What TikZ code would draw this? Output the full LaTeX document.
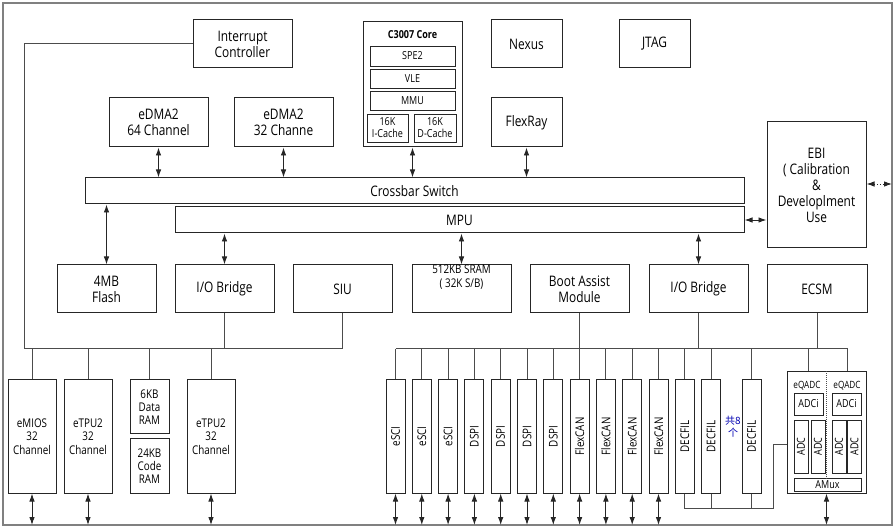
\documentclass[tikz,border=0pt]{standalone}
\usepackage{fontspec}
\setmainfont{Open Sans}[FakeStretch=0.82]
\newfontfamily\cjk{Noto Sans CJK SC}
\usetikzlibrary{arrows.meta}
\newcommand\bigf{\fontsize{14.5}{16}\selectfont}
\newcommand\midf{\fontsize{12}{13.3}\selectfont}
\newcommand\smf{\fontsize{11}{12}\selectfont}
\begin{document}
\begin{tikzpicture}[x=1pt,y=-1pt,line width=0.9pt,
  blk/.style={draw=black!85,line width=1pt,inner sep=1pt,align=center,font=\bigf},
  sz/.style 2 args={minimum width=#1pt,minimum height=#2pt},
  sub/.style={blk,font=\smf,line width=0.8pt},
  per/.style={blk,font=\midf,sz={19}{113}},
  dbl/.style={{Latex[length=8pt,width=5.5pt]}-{Latex[length=8pt,width=5.5pt]},black!85},
  wire/.style={black!70,line width=1pt}]
\useasboundingbox (0,0) rectangle (895,529);
\draw[black!50,line width=1.3pt] (3,3) rectangle (892,525);
\coordinate (bot) at (0,525);
\coordinate (lb) at (24,349);
\coordinate (rb) at (395.5,349);
\coordinate (rbe) at (847,349);
\coordinate (rbq) at (808,349);
\coordinate (db) at (773,508);
\coordinate (dq) at (0,445);
\coordinate (ext) at (892,184);
\node[blk,sz={99}{48}] (intc) at (242.5,44) {Interrupt\\Controller};
\node[blk,sz={99}{125}] (core) at (412.5,84.5) {};
\node[font=\smf\bfseries] (coret) at (412.5,35) {C3007 Core};
\node[sub,sz={85}{20}] (spe) at (412.5,56) {SPE2};
\node[sub,sz={85}{19}] (vle) at (412.5,78.5) {VLE};
\node[sub,sz={85}{19}] (mmu) at (412.5,100.5) {MMU};
\node[sub,sz={41}{28},inner sep=0pt] (icache) at (387.5,128) {16K\\I-Cache};
\node[sub,sz={42}{28},inner sep=0pt] (dcache) at (435,128) {16K\\D-Cache};
\node[blk,sz={71}{48}] (nexus) at (526.5,44) {Nexus};
\node[blk,sz={71}{48}] (jtag) at (654.5,44) {JTAG};
\node[blk,sz={99}{49}] (edma64) at (158.5,122.5) {eDMA2\\64 Channel};
\node[blk,sz={99}{49}] (edma32) at (283.5,122.5) {eDMA2\\32 Channe};
\node[blk,sz={71}{49}] (flexray) at (526.5,122.5) {FlexRay};
\node[blk,sz={659}{26}] (xbar) at (414.5,191) {Crossbar Switch};
\node[blk,sz={569}{26}] (mpu) at (459.5,220) {MPU};
\node[blk,sz={99}{126}] (ebi) at (816.5,185) {EBI\\( Calibration\\\&\\Developlment\\Use};
\node[blk,sz={99}{48}] (flash) at (106.5,289) {4MB\\Flash};
\node[blk,sz={99}{48}] (iob1) at (224.5,289) {I/O Bridge};
\node[blk,sz={99}{48}] (siu) at (342.5,289) {SIU};
\node[blk,sz={99}{48},label={[font=\midf,align=center,anchor=north,label distance=3pt]north:512KB SRAM\\( 32K S/B)}] (sram) at (461.5,289) {};
\node[blk,sz={99}{48}] (boot) at (579.5,289) {Boot Assist\\Module};
\node[blk,sz={99}{48}] (iob2) at (698.5,289) {I/O Bridge};
\node[blk,sz={100}{48}] (ecsm) at (817,289) {ECSM};
\node[blk,font=\midf,sz={48}{113}] (emios) at (32,436.5) {eMIOS\\32\\Channel};
\node[blk,font=\midf,sz={48}{113}] (etpu1) at (88,436.5) {eTPU2\\32\\Channel};
\node[blk,font=\midf,sz={39}{54}] (dram) at (149.5,407) {6KB\\Data\\RAM};
\node[blk,font=\midf,sz={39}{54}] (cram) at (149.5,466) {24KB\\Code\\RAM};
\node[blk,font=\midf,sz={48}{113}] (etpu2) at (211,436.5) {eTPU2\\32\\Channel};
\foreach \lab [count=\i] in {eSCI,eSCI,eSCI,DSPI,DSPI,DSPI,DSPI,FlexCAN,FlexCAN,FlexCAN,FlexCAN,DECFIL,DECFIL}
  \node[per] (p\i) at ({395.5+26.3*(\i-1)},436.5) {\rotatebox{90}{\lab}};
\node[per] (p14) at (751.5,436.5) {\rotatebox{90}{DECFIL}};
\node[font=\cjk\fontsize{10}{12}\selectfont,text=blue!70!black,align=center,inner sep=0pt] (cnt) at (733,427) {共8\\个};
\node[blk,sz={79}{121}] (eqadc) at (826.5,432.5) {};
\node[font=\fontsize{10}{12}\selectfont,inner sep=0pt] (lq1) at (807,386) {eQADC};
\node[font=\fontsize{10}{12}\selectfont,inner sep=0pt] (lq2) at (847,386) {eQADC};
\node[sub,sz={29}{22}] (adc0) at (808.5,404) {ADCi};
\node[sub,sz={29}{22}] (adci) at (846.5,404) {ADCi};
\foreach \x [count=\i] in {801,818,839,854.5}
  \node[sub,sz={14}{53},inner sep=0pt] (a\i) at (\x,446.5) {\rotatebox{90}{ADC}};
\node[sub,sz={67}{13},inner sep=0pt] (amux) at (827.5,484.5) {AMux};
\draw[wire,densely dotted] (eqadc.north) -- (eqadc.north |- amux.north);
\foreach \n in {edma64,edma32,core,flexray}
  \draw[dbl] (\n.south) -- (\n.south |- xbar.north);
\draw[dbl] (xbar.south -| flash.north) -- (flash.north);
\foreach \n in {iob1,sram,iob2}
  \draw[dbl] (mpu.south -| \n.north) -- (\n.north);
\draw[dbl] (mpu.east) -- (mpu.east -| ebi.west);
\draw[dbl,dotted] (ext -| ebi.east) -- (ext);
\draw[wire] (intc.west) -| (lb) -- (lb -| siu.south) -- (siu.south);
\draw[wire] (iob1.south) -- (iob1.south |- lb);
\foreach \n in {emios,etpu1,dram,etpu2}
  \draw[wire] (\n.north) -- (\n.north |- lb);
\foreach \n in {emios,etpu1,etpu2}
  \draw[dbl] (\n.south) -- (\n.south |- bot);
\draw[wire] (rb) -- (rbe) -- (rbe |- eqadc.north);
\draw[wire] (rbq) -- (rbq |- eqadc.north);
\foreach \n in {boot,iob2,ecsm}
  \draw[wire] (\n.south) -- (\n.south |- rb);
\foreach \i in {1,...,14}
  \draw[wire] (p\i.north) -- (p\i.north |- rb);
\foreach \i in {1,...,11}
  \draw[dbl] (p\i.south) -- (p\i.south |- bot);
\draw[wire] (p12.south) |- (db) |- (eqadc.west |- dq);
\foreach \i in {13,14}
  \draw[wire] (p\i.south) -- (p\i.south |- db);
\draw[dbl] (eqadc.south) -- (eqadc.south |- bot);
\end{tikzpicture}
\end{document}
